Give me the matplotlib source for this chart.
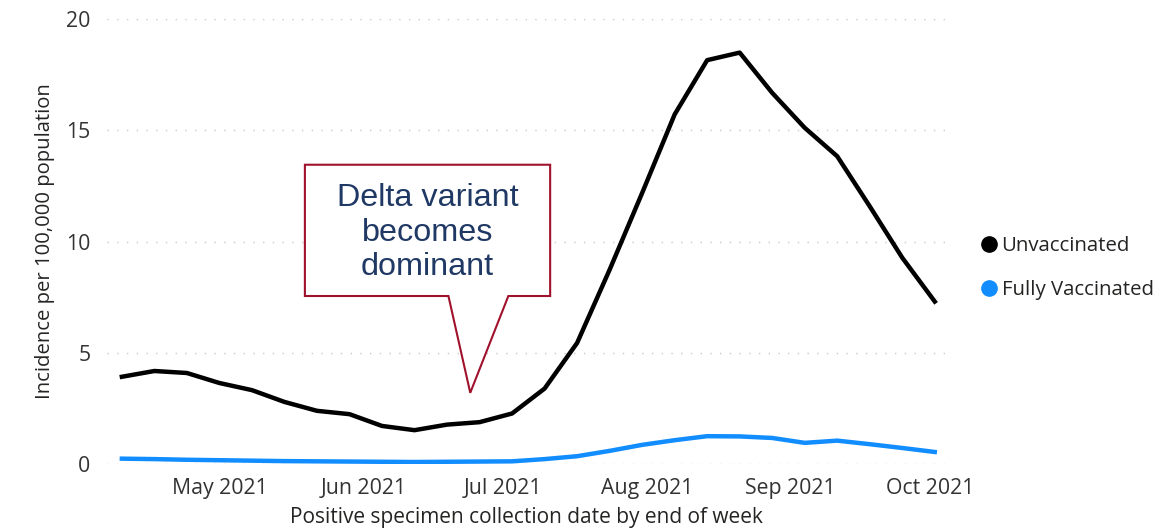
import datetime as dt
import matplotlib
matplotlib.use("Agg")
import matplotlib.pyplot as plt
import matplotlib.dates as mdates
from matplotlib.lines import Line2D
from matplotlib.patches import Polygon

plt.rcParams['font.family'] = ['Open Sans', 'DejaVu Sans']

# weekly data, week ending Saturday
start = dt.date(2021, 4, 10)
weeks = [start + dt.timedelta(days=7 * i) for i in range(26)]

unvaccinated = [3.92, 4.18, 4.09, 3.64, 3.32, 2.79, 2.39, 2.24, 1.71, 1.52,
                1.77, 1.88, 2.27, 3.39, 5.44, 8.73, 12.18, 15.71, 18.15, 18.49,
                16.68, 15.11, 13.83, 11.58, 9.27, 7.30]
fully_vaccinated = [0.24, 0.22, 0.19, 0.17, 0.15, 0.13, 0.12, 0.11, 0.10, 0.09,
                    0.10, 0.11, 0.12, 0.22, 0.35, 0.59, 0.86, 1.07, 1.25, 1.24,
                    1.17, 0.95, 1.05, 0.89, 0.72, 0.54]

month_ticks = [dt.date(2021, m, 1) for m in range(5, 11)]
y_ticks = [0, 5, 10, 15, 20]

fig = plt.figure(figsize=(11.73, 5.31), dpi=100)
ax = fig.add_axes([107 / 1173, 67 / 531, 838 / 1173, 445 / 531])

ax.plot(weeks, unvaccinated, color='black', lw=3.2, solid_joinstyle='round', zorder=3)
ax.plot(weeks, fully_vaccinated, color='#118DFF', lw=3.2, solid_joinstyle='round', zorder=3)

ax.set_xlim(mdates.date2num(start) - 3.2, mdates.date2num(weeks[-1]) + 2.2)
ax.set_ylim(0, 20)
ax.set_yticks(y_ticks)
ax.set_xticks(month_ticks)
ax.xaxis.set_major_formatter(mdates.DateFormatter('%b %Y'))

for s in ax.spines.values():
    s.set_visible(False)
ax.tick_params(length=0, labelsize=15.3, colors='#333333')
ax.tick_params(axis='y', pad=12)
ax.tick_params(axis='x', pad=10)
ax.grid(axis='y', color='#C8C8C8', lw=1, linestyle=(0, (1, 6)))
ax.set_axisbelow(True)

ax.set_xlabel('Positive specimen collection date by end of week', fontsize=15,
              color='#252423', labelpad=6)
ax.set_ylabel('Incidence per 100,000 population', fontsize=14.6, color='#252423',
              labelpad=8)

# callout
d0 = mdates.date2num(start)
left, right = d0 + 39.4, d0 + 92.2
top, bottom = 13.45, 7.55
bl, br = d0 + 70.3, d0 + 83.2
tip = (d0 + 75.0, 3.2)
callout = Polygon([(left, top), (right, top), (right, bottom), (br, bottom), tip,
                   (bl, bottom), (left, bottom)], closed=True, facecolor='white',
                  edgecolor='#A0112B', lw=1.5, zorder=4)
ax.add_patch(callout)
ax.text((left + right) / 2, (top + bottom) / 2 - 0.1, 'Delta variant\nbecomes\ndominant',
        ha='center', va='center', fontsize=23.3, color='#1F3864',
        family=['Liberation Sans', 'DejaVu Sans'], linespacing=1.2, zorder=5)

handles = [Line2D([], [], marker='o', ls='', color='black', markersize=11),
           Line2D([], [], marker='o', ls='', color='#118DFF', markersize=11)]
fig.legend(handles, ['Unvaccinated', 'Fully Vaccinated'], loc='center left',
           bbox_to_anchor=(975 / 1173, 1 - 268 / 531), frameon=False, fontsize=14.7,
           handlelength=0.6, handletextpad=0.3, labelspacing=1.2, borderaxespad=0,
           labelcolor='#252423')

plt.savefig('out.png')
